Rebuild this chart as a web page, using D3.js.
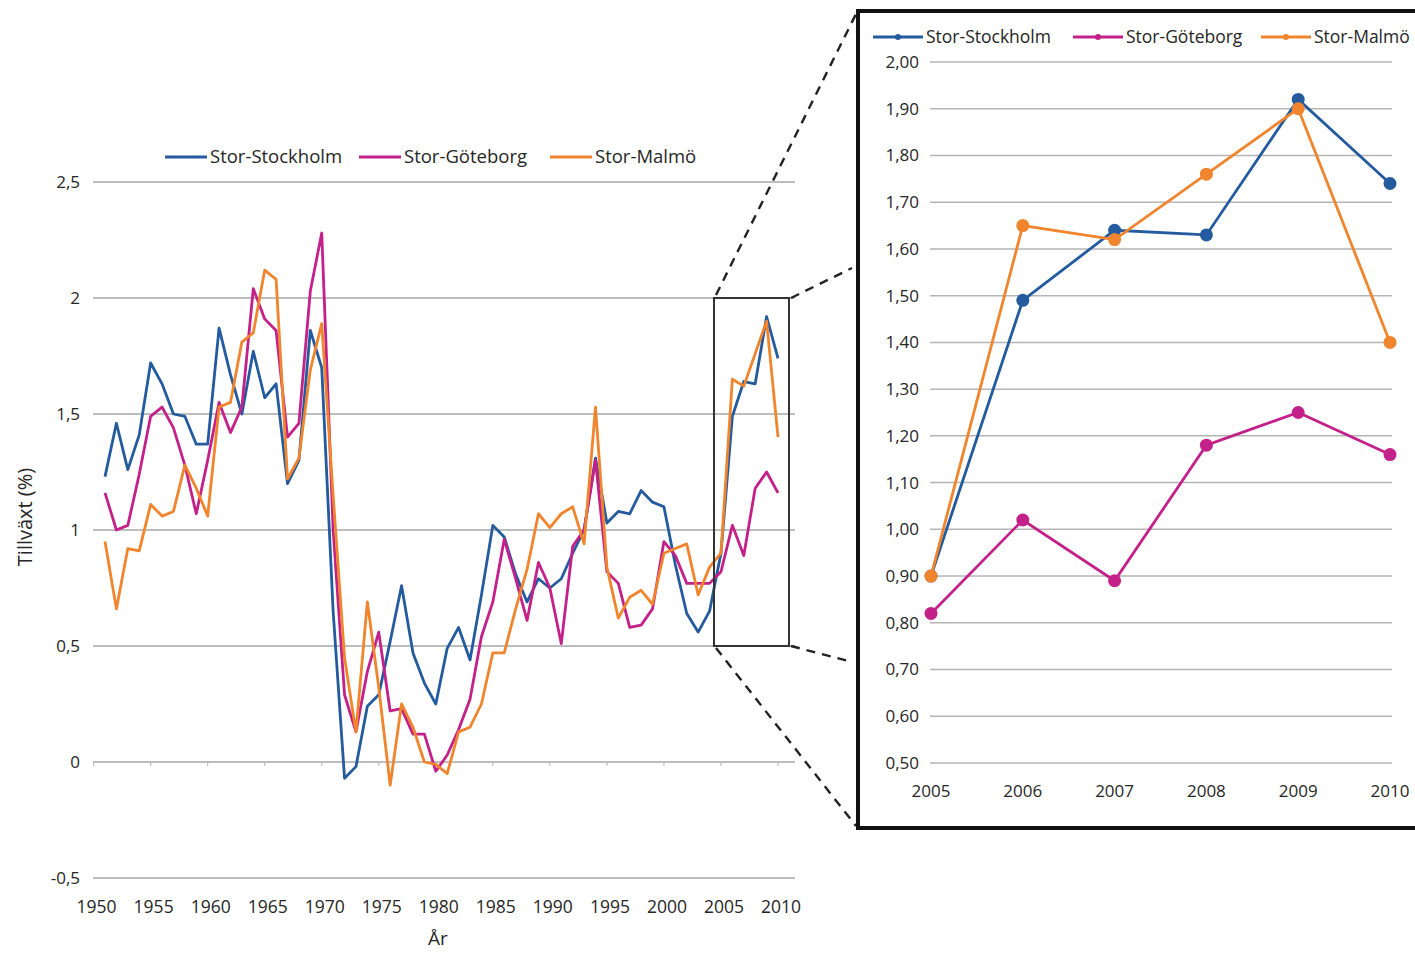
<!DOCTYPE html>
<html>
<head>
<meta charset="utf-8">
<script src="https://cdn.jsdelivr.net/npm/d3@7"></script>
<style>
  body { margin: 0; background: #fff; }
  text { font-family: "Open Sans", "Noto Sans", sans-serif; fill: #262626; }
</style>
</head>
<body>
<div id="chart"></div>
<script>
// Years 1951-2010, annual growth (%)
var years = d3.range(1951, 2011);

var stockholm = [1.23, 1.46, 1.26, 1.41, 1.72, 1.63, 1.50, 1.49, 1.37, 1.37,
  1.87, 1.67, 1.50, 1.77, 1.57, 1.63, 1.20, 1.30, 1.86, 1.70,
  0.65, -0.07, -0.02, 0.24, 0.29, 0.52, 0.76, 0.47, 0.34, 0.25,
  0.49, 0.58, 0.44, 0.72, 1.02, 0.97, 0.81, 0.69, 0.79, 0.75,
  0.79, 0.90, 1.00, 1.31, 1.03, 1.08, 1.07, 1.17, 1.12, 1.10,
  0.85, 0.64, 0.56, 0.65, 0.90, 1.49, 1.64, 1.63, 1.92, 1.74];

var goteborg = [1.16, 1.00, 1.02, 1.24, 1.49, 1.53, 1.44, 1.28, 1.07, 1.30,
  1.55, 1.42, 1.53, 2.04, 1.91, 1.86, 1.40, 1.46, 2.03, 2.28,
  1.00, 0.29, 0.13, 0.39, 0.56, 0.22, 0.23, 0.12, 0.12, -0.04,
  0.03, 0.14, 0.27, 0.54, 0.69, 0.96, 0.79, 0.61, 0.86, 0.75,
  0.51, 0.93, 1.00, 1.30, 0.82, 0.77, 0.58, 0.59, 0.66, 0.95,
  0.89, 0.77, 0.77, 0.77, 0.82, 1.02, 0.89, 1.18, 1.25, 1.16];

var malmo = [0.95, 0.66, 0.92, 0.91, 1.11, 1.06, 1.08, 1.28, 1.18, 1.06,
  1.53, 1.55, 1.81, 1.85, 2.12, 2.08, 1.22, 1.31, 1.69, 1.89,
  1.15, 0.45, 0.13, 0.69, 0.32, -0.10, 0.25, 0.15, 0.00, -0.01,
  -0.05, 0.13, 0.15, 0.25, 0.47, 0.47, 0.66, 0.83, 1.07, 1.01,
  1.07, 1.10, 0.94, 1.53, 0.84, 0.62, 0.71, 0.74, 0.68, 0.90,
  0.92, 0.94, 0.72, 0.84, 0.90, 1.65, 1.62, 1.76, 1.90, 1.40];

var seriesNames = ["Stor-Stockholm", "Stor-Göteborg", "Stor-Malmö"];
var seriesColors = ["#245a9e", "#c4208a", "#f0852e"];
var seriesValues = [stockholm, goteborg, malmo];

var leftYTicks = [2.5, 2, 1.5, 1, 0.5, 0, -0.5];
var leftXTicks = d3.range(1950, 2011, 5);
var insetYTicks = d3.range(0.5, 2.001, 0.1);
var insetYears = [2005, 2006, 2007, 2008, 2009, 2010];

var svgWidth = 1415;
var svgHeight = 953;

var svg = d3.select("#chart")
  .append("svg")
  .attr("width", svgWidth)
  .attr("height", svgHeight);

var fmt1 = function(v) { return d3.format("~g")(v).replace(".", ",").replace("\u2212", "-"); };
var fmt2 = function(v) { return d3.format(".2f")(v).replace(".", ","); };

// ---------- main chart ----------
var x = d3.scaleLinear().domain([1951, 2010]).range([105, 778]);
var y = d3.scaleLinear().domain([-0.5, 2.5]).range([878, 182]);

var grid = svg.append("g");
grid.selectAll("line")
  .data(leftYTicks)
  .enter()
  .append("line")
  .attr("x1", 93)
  .attr("x2", 795)
  .attr("y1", d => y(d))
  .attr("y2", d => y(d))
  .attr("stroke", "#bdbdbd")
  .attr("stroke-width", 1.8);

grid.selectAll("text")
  .data(leftYTicks)
  .enter()
  .append("text")
  .attr("x", 80)
  .attr("y", d => y(d))
  .attr("dy", "0.35em")
  .attr("text-anchor", "end")
  .style("font-size", "17px")
  .text(d => fmt1(d));

// small ticks on the zero line
svg.append("g").selectAll("line")
  .data(leftXTicks)
  .enter()
  .append("line")
  .attr("x1", d => x(d))
  .attr("x2", d => x(d))
  .attr("y1", y(0))
  .attr("y2", y(0) + 4)
  .attr("stroke", "#bdbdbd")
  .attr("stroke-width", 1.2);

svg.append("g").selectAll("text")
  .data(leftXTicks)
  .enter()
  .append("text")
  .attr("x", d => x(d) + 3)
  .attr("y", 913)
  .attr("text-anchor", "middle")
  .style("font-size", "17.5px")
  .text(d => d);

svg.append("text")
  .attr("x", 438)
  .attr("y", 945)
  .attr("text-anchor", "middle")
  .style("font-size", "19px")
  .text("År");

svg.append("text")
  .attr("transform", "translate(32, 517) rotate(-90)")
  .attr("text-anchor", "middle")
  .style("font-size", "20px")
  .text("Tillväxt (%)");

var line = d3.line()
  .x((d, i) => x(years[i]))
  .y(d => y(d));

svg.append("g").selectAll("path")
  .data(seriesValues)
  .enter()
  .append("path")
  .attr("d", d => line(d))
  .attr("fill", "none")
  .attr("stroke", (d, i) => seriesColors[i])
  .attr("stroke-width", 2.8)
  .attr("stroke-linejoin", "round");

// legend of main chart
var legendX = [165, 359, 550];
var leg = svg.append("g").selectAll("g")
  .data(seriesNames)
  .enter()
  .append("g")
  .attr("transform", (d, i) => `translate(${legendX[i]}, 157)`);
leg.append("line")
  .attr("x1", 0).attr("x2", 42)
  .attr("stroke", (d, i) => seriesColors[i])
  .attr("stroke-width", 2.8);
leg.append("text")
  .attr("x", 45)
  .attr("dy", "0.35em")
  .style("font-size", "18.5px")
  .text(d => d);

// zoom box on main chart
var boxL = 714, boxR = 789, boxT = y(2), boxB = y(0.5);
svg.append("rect")
  .attr("x", boxL).attr("y", boxT)
  .attr("width", boxR - boxL).attr("height", boxB - boxT)
  .attr("fill", "none")
  .attr("stroke", "#333")
  .attr("stroke-width", 2);

var dashes = [
  [boxL + 2, boxT - 3, 856, 14],
  [boxR + 2, boxT, 852, 268],
  [boxL + 2, boxB + 2, 856, 826],
  [boxR + 2, boxB, 852, 662]
];
svg.append("g").selectAll("line")
  .data(dashes)
  .enter()
  .append("line")
  .attr("x1", d => d[0]).attr("y1", d => d[1])
  .attr("x2", d => d[2]).attr("y2", d => d[3])
  .attr("stroke", "#222")
  .attr("stroke-width", 2.4)
  .attr("stroke-dasharray", "9,7");

// ---------- inset ----------
svg.append("rect")
  .attr("x", 858).attr("y", 11)
  .attr("width", 600).attr("height", 817)
  .attr("fill", "#fff")
  .attr("stroke", "#111")
  .attr("stroke-width", 4);

var xi = d3.scaleLinear().domain([2005, 2010]).range([931, 1390]);
var yi = d3.scaleLinear().domain([0.5, 2.0]).range([763, 62]);

var igrid = svg.append("g");
igrid.selectAll("line")
  .data(insetYTicks)
  .enter()
  .append("line")
  .attr("x1", 930)
  .attr("x2", 1392)
  .attr("y1", d => yi(d))
  .attr("y2", d => yi(d))
  .attr("stroke", "#b5b5b5")
  .attr("stroke-width", 1.5);

igrid.selectAll("text")
  .data(insetYTicks)
  .enter()
  .append("text")
  .attr("x", 919)
  .attr("y", d => yi(d))
  .attr("dy", "0.35em")
  .attr("text-anchor", "end")
  .style("font-size", "17px")
  .text(d => fmt2(d));

svg.append("g").selectAll("text")
  .data(insetYears)
  .enter()
  .append("text")
  .attr("x", d => xi(d))
  .attr("y", 797)
  .attr("text-anchor", "middle")
  .style("font-size", "17px")
  .text(d => d);

var insetSeries = seriesValues.map(v => v.slice(years.indexOf(2005)));

var iline = d3.line()
  .x((d, i) => xi(insetYears[i]))
  .y(d => yi(d));

var ig = svg.append("g").selectAll("g")
  .data(insetSeries)
  .enter()
  .append("g");
ig.append("path")
  .attr("d", d => iline(d))
  .attr("fill", "none")
  .attr("stroke", (d, i) => seriesColors[i])
  .attr("stroke-width", 2.8);
ig.each(function(d, i) {
  d3.select(this).selectAll("circle")
    .data(d)
    .enter()
    .append("circle")
    .attr("cx", (v, j) => xi(insetYears[j]))
    .attr("cy", v => yi(v))
    .attr("r", 6.5)
    .attr("fill", seriesColors[i]);
});

// inset legend
var ilegX = [873, 1073, 1261];
var ileg = svg.append("g").selectAll("g")
  .data(seriesNames)
  .enter()
  .append("g")
  .attr("transform", (d, i) => `translate(${ilegX[i]}, 37)`);
ileg.append("line")
  .attr("x1", 0).attr("x2", 50)
  .attr("stroke", (d, i) => seriesColors[i])
  .attr("stroke-width", 2.8);
ileg.append("circle")
  .attr("cx", 25)
  .attr("r", 3)
  .attr("fill", (d, i) => seriesColors[i]);
ileg.append("text")
  .attr("x", 53)
  .attr("dy", "0.35em")
  .style("font-size", "17.5px")
  .text(d => d);
</script>
</body>
</html>
